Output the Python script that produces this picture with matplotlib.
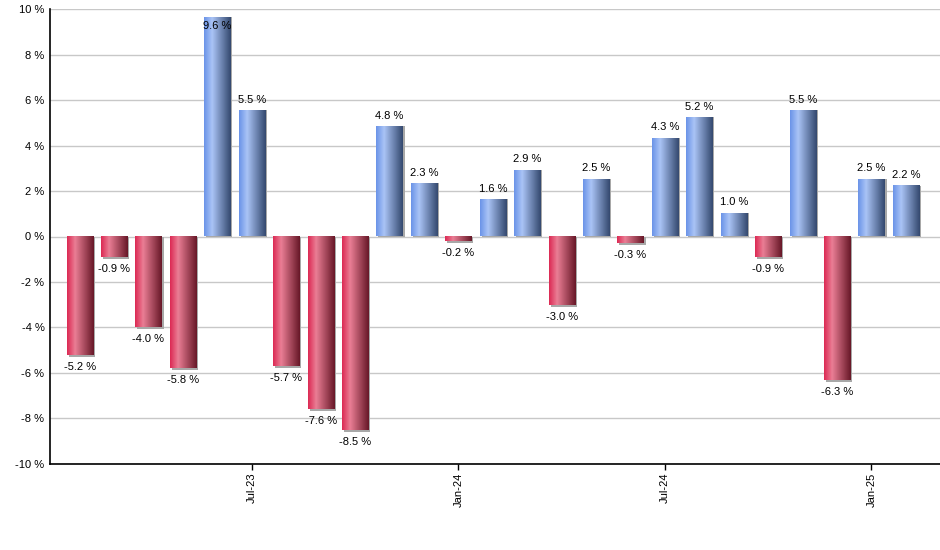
import numpy as np
import matplotlib.pyplot as plt
from matplotlib.colors import LinearSegmentedColormap
from matplotlib.patches import Rectangle

plt.rcParams['font.family'] = ['Liberation Sans', 'DejaVu Sans']

# monthly returns, Feb-23 .. Feb-25
months = ['Feb-23', 'Mar-23', 'Apr-23', 'May-23', 'Jun-23', 'Jul-23', 'Aug-23', 'Sep-23',
          'Oct-23', 'Nov-23', 'Dec-23', 'Jan-24', 'Feb-24', 'Mar-24', 'Apr-24', 'May-24',
          'Jun-24', 'Jul-24', 'Aug-24', 'Sep-24', 'Oct-24', 'Nov-24', 'Dec-24', 'Jan-25', 'Feb-25']
values = [-5.2, -0.9, -4.0, -5.8, 9.6, 5.5, -5.7, -7.6, -8.5, 4.8, 2.3, -0.2, 1.6, 2.9,
          -3.0, 2.5, -0.3, 4.3, 5.2, 1.0, -0.9, 5.5, -6.3, 2.5, 2.2]
tick_months = ['Jul-23', 'Jan-24', 'Jul-24', 'Jan-25']

blue_cm = LinearSegmentedColormap.from_list('b', [(0, '#6b94e8'), (0.3, '#aac4f6'), (1, '#34496f')])
red_cm = LinearSegmentedColormap.from_list('r', [(0, '#dc2a54'), (0.3, '#ea7e95'), (1, '#681828')])
grad = np.linspace(0, 1, 64).reshape(1, -1)

fig = plt.figure(figsize=(9.4, 5.5), dpi=100)
ax = fig.add_axes([0.0532, 0.1564, 0.9468, 0.8272])

x = np.arange(len(values))
w = 0.76
ax.set_xlim(-0.86, 24.99)
ax.set_ylim(-10, 10)

for xi, v in zip(x, values):
    # shadow
    ax.add_patch(Rectangle((xi - w / 2 + 0.06, min(0, v) - (0.08 if v < 0 else 0)), w, abs(v) + 0.04,
                           color='#a8a8a8', zorder=2, lw=0))
    cm = blue_cm if v >= 0 else red_cm
    ax.imshow(grad, cmap=cm, aspect='auto', extent=[xi - w / 2, xi + w / 2, 0, v],
              origin='lower', zorder=3, interpolation='bilinear')
    lbl = f'{v:.1f} %'
    if v >= 0:
        if v > 9:
            ax.annotate(lbl, (xi, v), xytext=(0, -2), textcoords='offset points',
                        ha='center', va='top', fontsize=8, zorder=4)
        else:
            ax.annotate(lbl, (xi, v), xytext=(0, 6), textcoords='offset points',
                        ha='center', va='baseline', fontsize=8, zorder=4)
    else:
        ax.annotate(lbl, (xi, v), xytext=(0, -5), textcoords='offset points',
                    ha='center', va='top', fontsize=8, zorder=4)

ax.set_xlim(-0.86, 24.99)
ax.set_ylim(-10, 10)

yt = np.arange(-10, 11, 2)
ax.set_yticks(yt)
ax.set_yticklabels([f'{t} %' for t in yt], fontsize=8)
ax.tick_params(axis='y', length=0, pad=4)
ax.set_xticks([months.index(m) for m in tick_months])
ax.set_xticklabels(tick_months, rotation=90, fontsize=8)
ax.tick_params(axis='x', length=4, width=1, pad=2)

ax.grid(axis='y', color='#c8c8c8', lw=1, zorder=0)
ax.set_axisbelow(True)
for s in ['top', 'right']:
    ax.spines[s].set_visible(False)
ax.spines['left'].set_linewidth(1.2)
ax.spines['bottom'].set_linewidth(1.2)

fig.savefig('out.png', dpi=100)
